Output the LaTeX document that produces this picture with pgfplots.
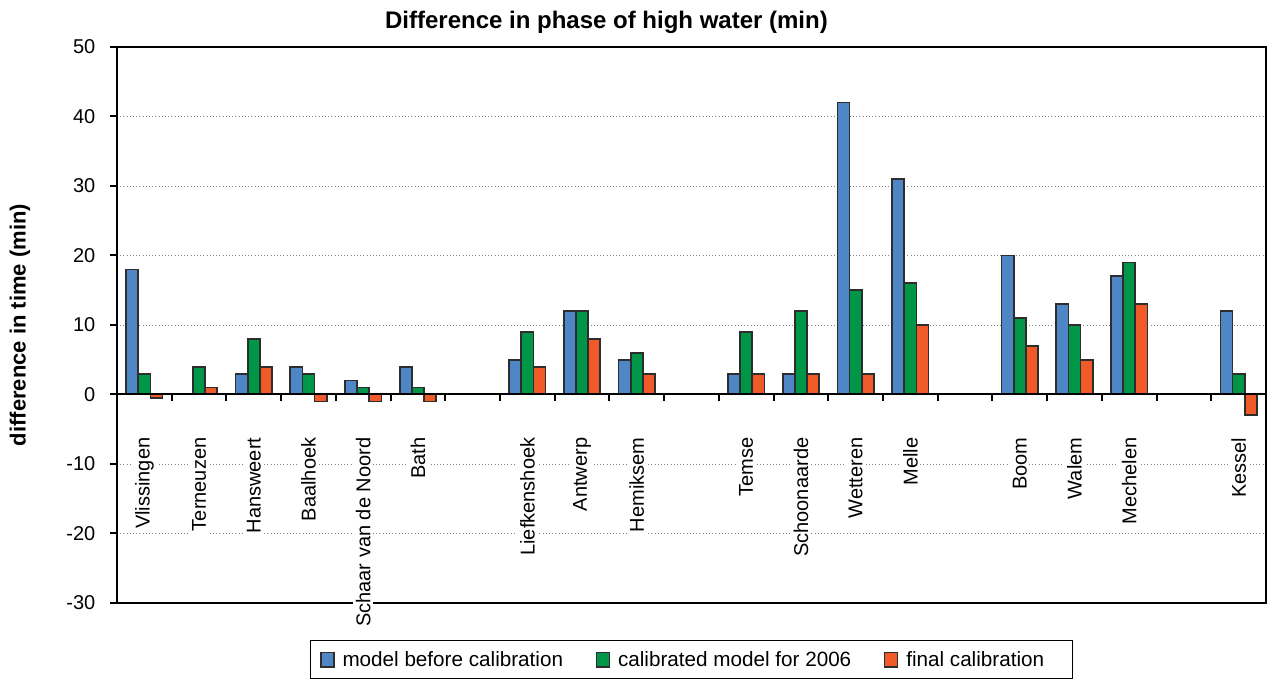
\documentclass[border=0pt]{standalone}
\usepackage{pgfplots}
\pgfplotsset{compat=1.18}
\usepackage{fontspec}
\setmainfont{Liberation Sans}
\definecolor{cblue}{RGB}{79,134,198}
\definecolor{cgreen}{RGB}{0,150,72}
\definecolor{corange}{RGB}{240,90,40}
\definecolor{cedge}{RGB}{45,45,45}
\begin{document}
\begin{tikzpicture}
\useasboundingbox (-87.75pt,-57.75pt) rectangle (863.25pt,452.25pt);
\begin{axis}[
  at={(0,0)}, anchor=south west,
  width=861.75pt, height=417pt, scale only axis,
  xmin=-0.5, xmax=20.5, ymin=-30, ymax=50,
  ybar, bar width=0.222,
  xtick={0,1,2,3,4,5,7,8,9,11,12,13,14,16,17,18,20},
  xticklabels={Vlissingen,Terneuzen,Hansweert,Baalhoek,Schaar van de Noord,Bath,Liefkenshoek,Antwerp,Hemiksem,Temse,Schoonaarde,Wetteren,Melle,Boom,Walem,Mechelen,Kessel},
  x tick label style={rotate=90, anchor=east, fill=white, inner sep=2pt, font=\fontsize{15}{18}\selectfont},
  xticklabel shift=-131.4pt,
  major x tick style={draw=none},
  ytick={-30,-20,-10,0,10,20,30,40,50},
  yticklabels={-30,-20,-10,0,10,20,30,40,50},
  y tick label style={font=\fontsize{15}{18}\selectfont, xshift=-7.5pt},
  ytick pos=left, ytick align=outside,
  major tick length=5.25pt,
  ytick style={line width=1.5pt, black},
  ymajorgrids, grid style={dotted, gray, line width=0.7pt},
  axis line style={line width=1.5pt, black},
  title={Difference in phase of high water (min)},
  title style={font=\bfseries\fontsize{18}{21}\selectfont, at={(axis description cs:0.426,1)}, anchor=center, yshift=12.75pt},
  ylabel={difference in time (min)},
  ylabel style={font=\bfseries\fontsize{16.5}{20}\selectfont, at={(axis description cs:-0.0844,0.5)}, anchor=center},
  legend columns=3,
  legend style={at={(axis description cs:0.5,0)}, anchor=north, yshift=-27.75pt, draw=black, line width=0.75pt, inner xsep=7pt, inner ysep=6pt, font=\fontsize{15.5}{18}\selectfont, /tikz/every even column/.append style={column sep=22.5pt}, /tikz/every odd column/.append style={column sep=4pt}},
  legend image code/.code={\draw[#1, line width=1pt] (0pt,-5.5pt) rectangle (9.75pt,5.5pt);},
]
\addplot[fill=cblue, draw=cedge, line width=1.3pt, bar shift=-0.222] coordinates {(0,18) (1,0) (2,3) (3,4) (4,2) (5,4) (7,5) (8,12) (9,5) (11,3) (12,3) (13,42) (14,31) (16,20) (17,13) (18,17) (20,12)};
\addplot[fill=cgreen, draw=cedge, line width=1.3pt, bar shift=0] coordinates {(0,3) (1,4) (2,8) (3,3) (4,1) (5,1) (7,9) (8,12) (9,6) (11,9) (12,12) (13,15) (14,16) (16,11) (17,10) (18,19) (20,3)};
\addplot[fill=corange, draw=cedge, line width=1.3pt, bar shift=0.222] coordinates {(0,-0.5) (1,1) (2,4) (3,-1) (4,-1) (5,-1) (7,4) (8,8) (9,3) (11,3) (12,3) (13,3) (14,10) (16,7) (17,5) (18,13) (20,-3)};
\legend{model before calibration, calibrated model for 2006, final calibration\kern12pt}
\draw[line width=1.5pt, black] (axis cs:-0.5,0) -- (axis cs:20.5,0);
\pgfplotsinvokeforeach{0.5,1.5,...,19.5}{\draw[line width=1.5pt, black] (axis cs:#1,0) -- ++(0pt,-5.25pt);}
\end{axis}
\end{tikzpicture}
\end{document}
